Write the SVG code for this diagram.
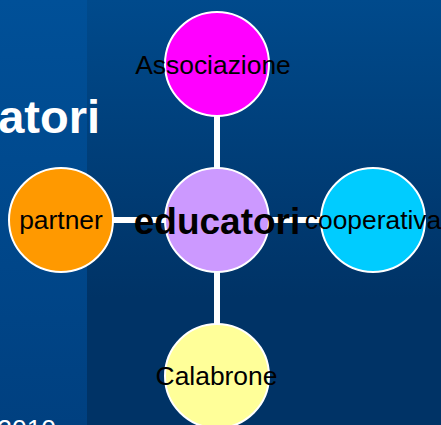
<svg xmlns="http://www.w3.org/2000/svg" width="441" height="425" viewBox="0 0 441 425">
<defs>
<linearGradient id="bgR" x1="0" y1="0" x2="0" y2="1"><stop offset="0" stop-color="#004a8c"/><stop offset="0.7" stop-color="#003366"/><stop offset="1" stop-color="#003366"/></linearGradient>
<linearGradient id="bgL" x1="0" y1="0" x2="0" y2="1"><stop offset="0" stop-color="#005098"/><stop offset="1" stop-color="#004080"/></linearGradient>
</defs>
<style>
.n{stroke:#fff;stroke-width:2}
.c{stroke:#fff;stroke-width:6;fill:none}
text{font-family:"Liberation Sans",Arial,sans-serif;fill:#000;text-anchor:middle}
.l{font-size:26.4px}
</style>
<rect id="bg-right" x="87" y="0" width="354" height="425" fill="url(#bgR)"/>
<rect id="bg-left" x="0" y="0" width="87" height="425" fill="url(#bgL)"/>
<text x="100" y="133" style="font-size:47px;font-weight:bold;fill:#fff;text-anchor:end">atori</text>
<text x="56" y="438" style="font-size:26.4px;fill:#fff;text-anchor:end">2010</text>
<g id="connectors">
<line class="c" x1="217" y1="115" x2="217" y2="170"/>
<line class="c" x1="217" y1="270" x2="217" y2="325"/>
<line class="c" x1="111" y1="220" x2="166" y2="220"/>
<line class="c" x1="268" y1="220" x2="323" y2="220"/>
</g>
<g id="node-associazione"><circle class="n" cx="217" cy="64" r="52" fill="#ff00ff"/><text class="l" x="213" y="74">Associazione</text></g>
<g id="node-partner"><circle class="n" cx="61" cy="220" r="52" fill="#ff9900"/><text class="l" x="61" y="229">partner</text></g>
<g id="node-educatori"><circle class="n" cx="217" cy="220" r="52" fill="#cc99ff"/><text x="217" y="234" style="font-size:37px;font-weight:bold">educatori</text></g>
<g id="node-cooperativa"><circle class="n" cx="373" cy="220" r="52" fill="#00ccff"/><text class="l" x="373" y="229">cooperativa</text></g>
<g id="node-calabrone"><circle class="n" cx="217" cy="376" r="52" fill="#ffff99"/><text class="l" x="216.5" y="385">Calabrone</text></g>
</svg>
